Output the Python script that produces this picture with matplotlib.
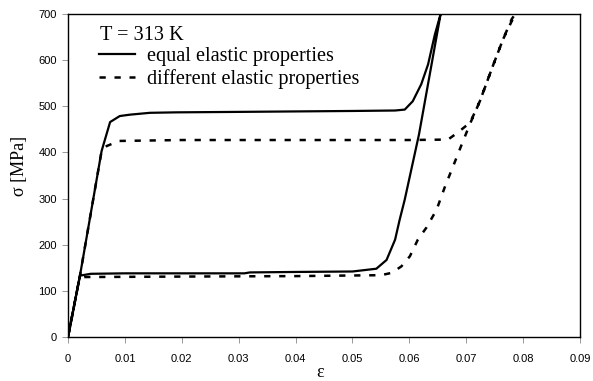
import matplotlib
matplotlib.use("Agg")
import matplotlib.pyplot as plt
from matplotlib.lines import Line2D

# strain / stress loop, equal elastic properties (load then unload)
eps_equal = [0.0, 0.0021, 0.0059, 0.0074, 0.0091, 0.0109, 0.0144, 0.019, 0.03, 0.04, 0.05,
             0.0575, 0.0592, 0.0606, 0.0621, 0.0633, 0.0645, 0.0655,
             0.0617, 0.0592, 0.0583, 0.0575, 0.056, 0.0542, 0.05, 0.04, 0.032, 0.031,
             0.02, 0.01, 0.004, 0.0021, 0.0]
sig_equal = [0, 133, 403, 466, 479, 482, 486, 487, 488, 489, 490,
             491, 493, 511, 548, 591, 656, 700,
             439, 298, 254, 211, 167, 148, 142, 141, 140, 138,
             138, 138, 137, 133, 0]

# strain / stress loop, different elastic properties
eps_diff = [0.0, 0.0021, 0.0059, 0.0068, 0.009, 0.02, 0.04, 0.06, 0.0668, 0.0685, 0.0707,
            0.0724, 0.0747, 0.0765, 0.078, 0.0786,
            0.0765, 0.0747, 0.0724, 0.0707, 0.0692, 0.0677, 0.0663, 0.0648,
            0.063, 0.0615, 0.0601, 0.0586, 0.0569, 0.055, 0.04, 0.02, 0.003, 0.002, 0.0]
sig_diff = [0, 133, 403, 414, 425, 427, 427, 427, 428, 443, 465,
            511, 588, 646, 689, 700,
            646, 588, 511, 463, 417, 370, 327, 276,
            237, 211, 175, 153, 139, 134, 132, 131, 130, 127, 0]

x_ticks = [0, 0.01, 0.02, 0.03, 0.04, 0.05, 0.06, 0.07, 0.08, 0.09]
x_tick_labels = ["0", "0.01", "0.02", "0.03", "0.04", "0.05", "0.06", "0.07", "0.08", "0.09"]
y_ticks = [0, 100, 200, 300, 400, 500, 600, 700]

serif = ["Liberation Serif", "DejaVu Serif"]
sans = ["Liberation Sans", "DejaVu Sans"]
dash_style = (0, (2.5, 3.5))

fig = plt.figure(figsize=(5.93, 3.81), dpi=100)
ax = fig.add_axes([0.1147, 0.1155, 0.8633, 0.8475])

# dashed first so the solid loop covers the shared elastic branch
ax.plot(eps_diff, sig_diff, color="black", lw=1.8, linestyle=dash_style)
ax.plot(eps_equal, sig_equal, color="black", lw=1.6, solid_joinstyle="round")

ax.set_xlim(0, 0.09)
ax.set_ylim(0, 700)
ax.set_xticks(x_ticks)
ax.set_xticklabels(x_tick_labels)
ax.set_yticks(y_ticks)

for lbl in ax.get_xticklabels() + ax.get_yticklabels():
    lbl.set_family(sans)
    lbl.set_fontsize(8)

ax.tick_params(axis="x", direction="out", length=4, width=0.6, color="#888888", pad=8)
ax.tick_params(axis="y", direction="out", length=4, width=0.6, color="#888888", pad=4)
for sp in ax.spines.values():
    sp.set_linewidth(1.0)

ax.set_ylabel("σ [MPa]", family=serif, fontsize=13)
ax.yaxis.set_label_coords(-0.078, 0.53)
fig.text(320 / 593, 4 / 381, "ε", family=serif, fontsize=13, ha="center", va="baseline")

handles = [
    Line2D([], [], color="none"),
    Line2D([], [], color="black", lw=1.6),
    Line2D([], [], color="black", lw=1.8, linestyle=dash_style),
]
labels = ["T = 313 K", "equal elastic properties", "different elastic properties"]
leg = ax.legend(handles, labels, loc="upper left", bbox_to_anchor=(0.045, 0.99),
                frameon=False, prop={"family": serif, "size": 14.6},
                handlelength=1.75, handletextpad=0.6, labelspacing=0.12,
                borderaxespad=0.0)
# shift the temperature line so it starts where the legend lines start
leg.get_texts()[0].set_position((-47, 0))

fig.savefig("out.png", dpi=100)
